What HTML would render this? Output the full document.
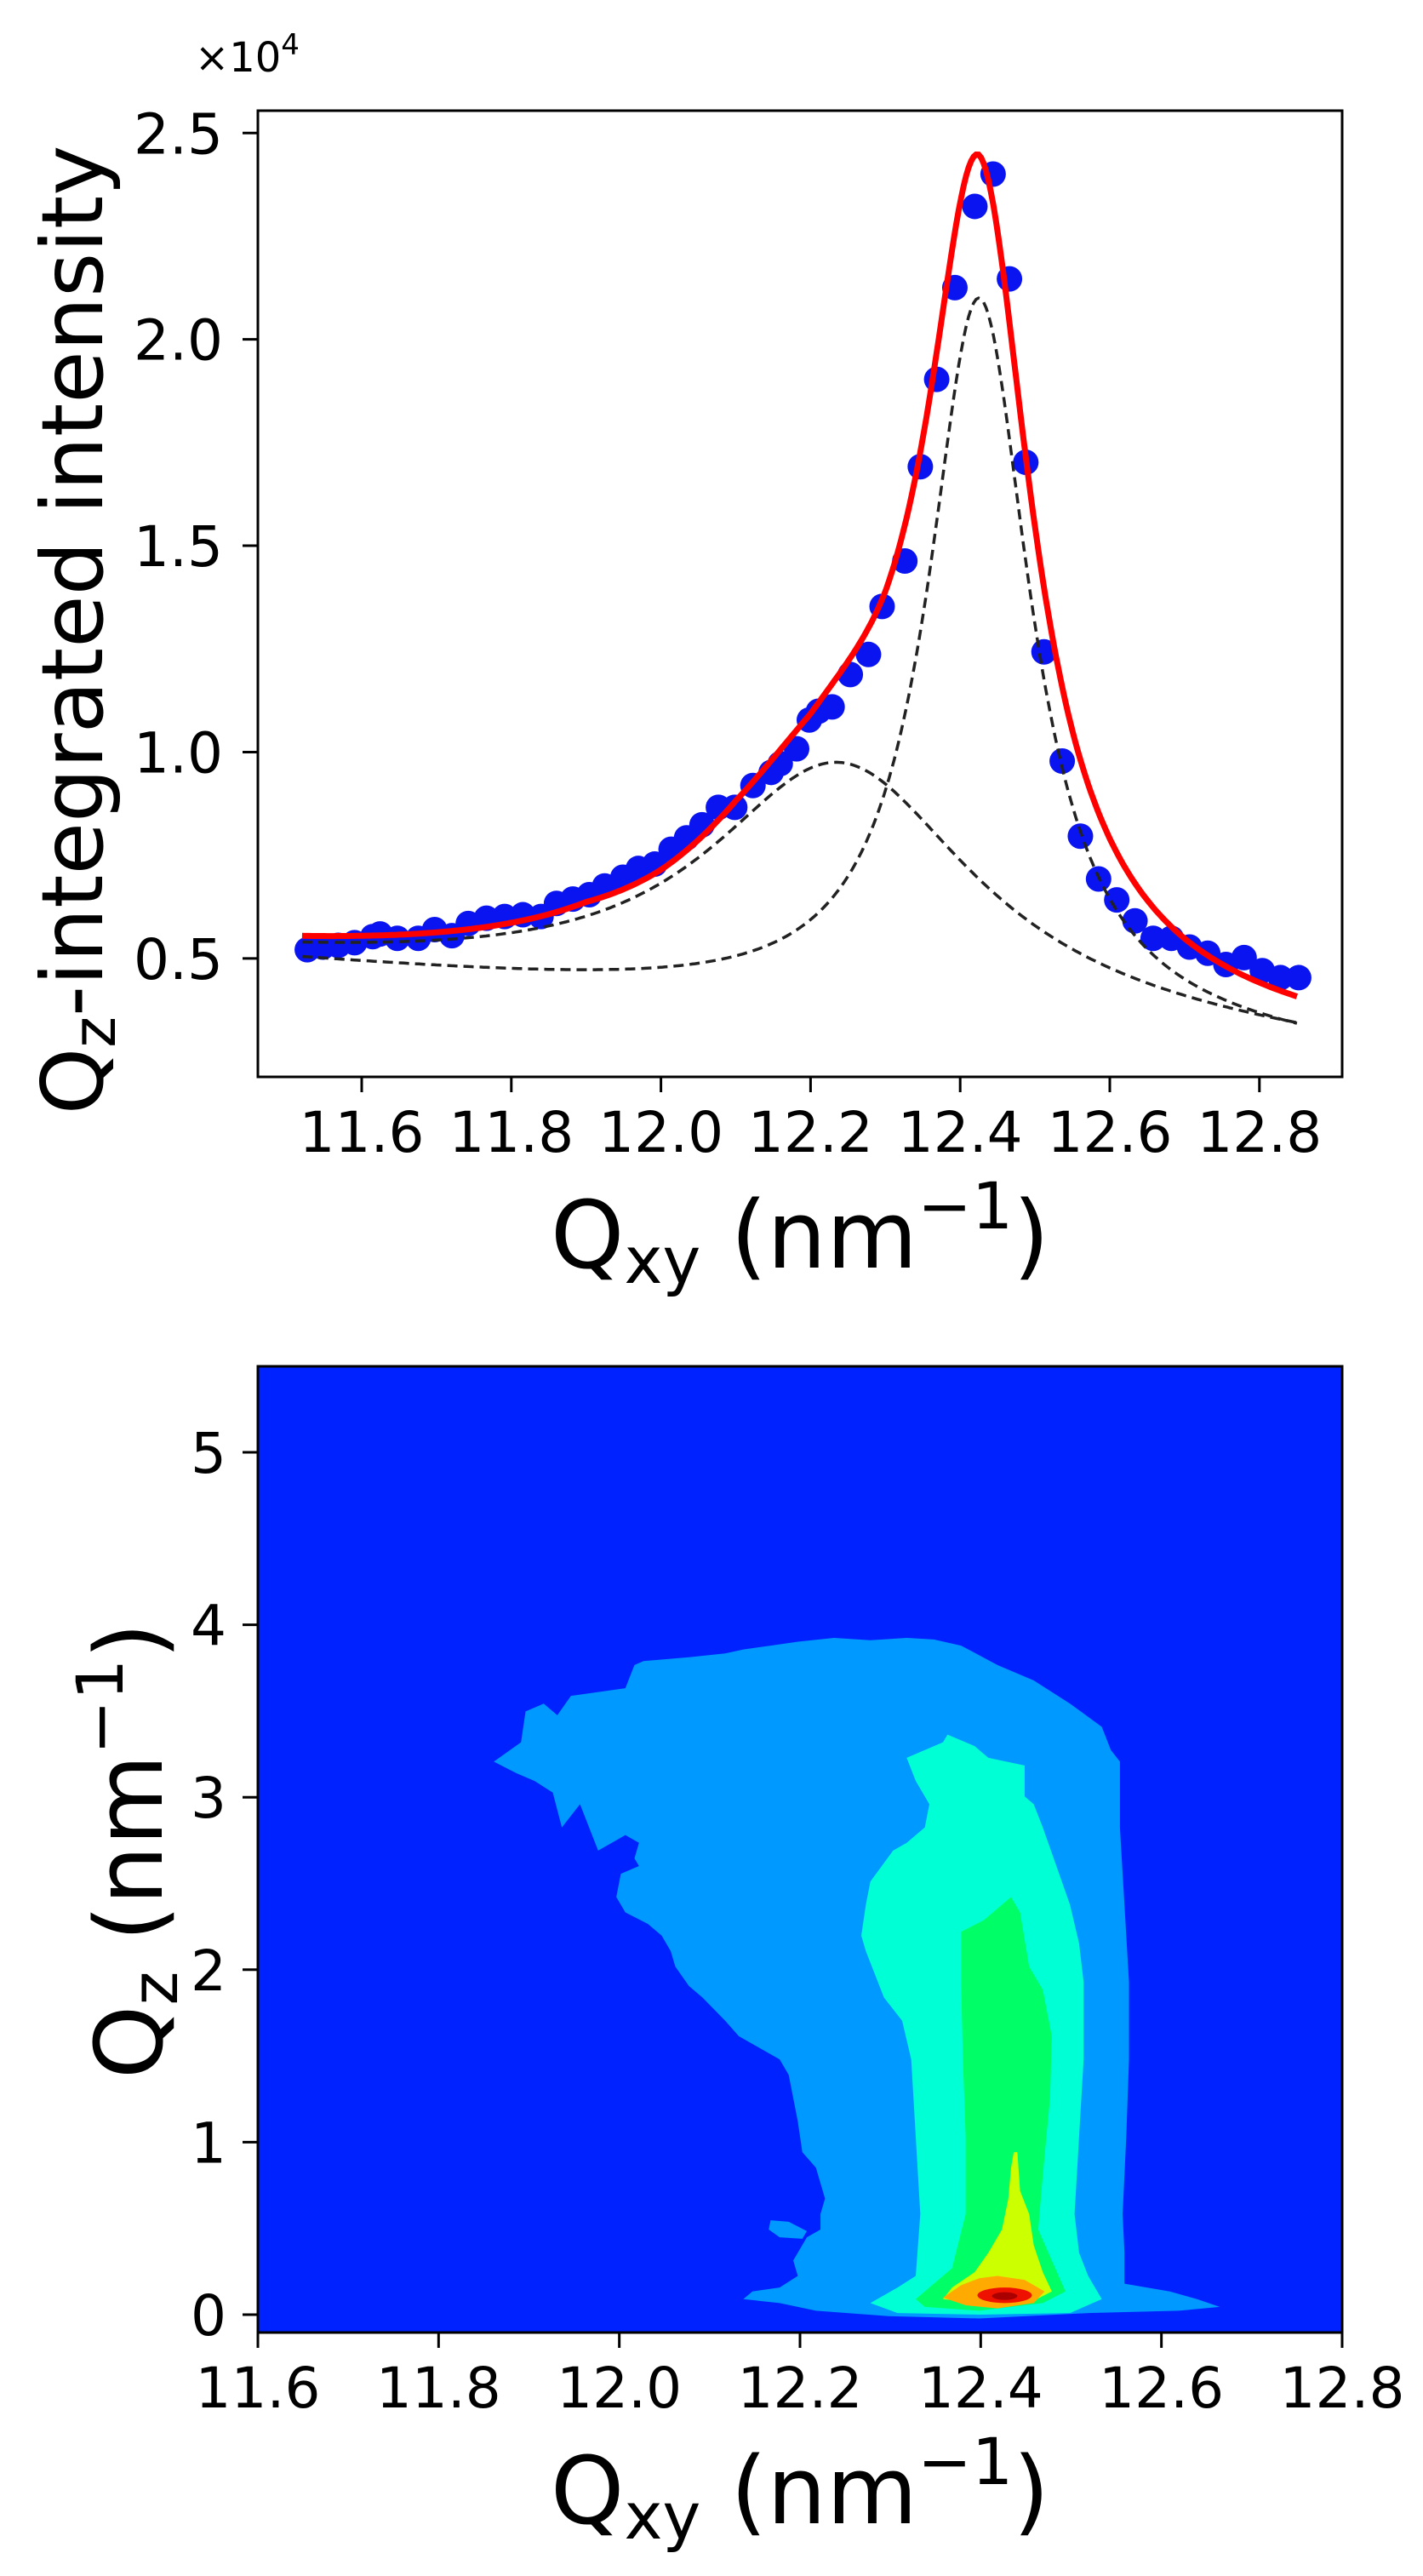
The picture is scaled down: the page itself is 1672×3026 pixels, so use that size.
<!DOCTYPE html>
<html><head><meta charset="utf-8"><style>
html,body{margin:0;padding:0;background:#fff;}
svg{display:block;}
text{font-family:"DejaVu Sans","Liberation Sans",sans-serif;fill:#000;}
</style></head><body>
<svg id="s" width="1672" height="3026" viewBox="0 0 1672 3026" xmlns="http://www.w3.org/2000/svg">
<rect width="1672" height="3026" fill="#fff"/>
<g id="top"></g>
<rect x="303" y="130" width="1274" height="1135" fill="none" stroke="#000" stroke-width="3"/>
<text x="229" y="84" font-size="48">×10<tspan dy="-20" font-size="34">4</tspan></text>
<g id="topticks" font-size="66"></g>
<text transform="translate(120,740) rotate(-90)" text-anchor="middle" font-size="100">Q<tspan font-size="70" dy="15">z</tspan><tspan dy="-15">-integrated intensity</tspan></text>
<text x="940" y="1489" text-anchor="middle" font-size="110">Q<tspan font-size="76" dy="18">xy</tspan><tspan dy="-18"> (nm</tspan><tspan font-size="76" dy="-46">−1</tspan><tspan dy="46">)</tspan></text>

<rect x="303" y="1605" width="1274" height="1135" fill="#0022ff"/>
<g transform="matrix(1.0662 0 0 0.9085 -0.87 1601.5)">
<polygon fill="#0099ff" points="545,515 575,490 580,450 600,440 615,455 630,430 660,425 690,420 700,390 710,385 760,380 800,375 820,370 850,365 880,360 920,355 960,358 1000,355 1030,357 1060,365 1100,390 1140,410 1180,440 1215,470 1225,500 1235,515 1235,600 1240,700 1245,800 1245,900 1242,1000 1238,1100 1240,1150 1240,1190 1290,1200 1320,1210 1345,1220 1300,1225 1200,1228 1080,1235 980,1232 900,1225 860,1215 820,1210 830,1200 860,1195 880,1180 875,1160 890,1130 905,1120 905,1100 910,1080 905,1060 900,1040 885,1020 880,980 875,950 870,920 860,900 830,880 815,870 800,850 775,820 760,805 745,780 740,760 730,740 715,725 690,710 680,690 685,660 705,650 700,640 705,620 690,610 660,630 640,570 620,600 610,555 590,540 570,530"/>
<polygon fill="#0099ff" points="850,1108 870,1110 890,1122 885,1132 860,1130 848,1120"/>
<polygon fill="#00ffd4" points="1000,510 1040,490 1045,480 1075,495 1090,510 1130,520 1130,560 1140,570 1150,600 1165,650 1180,700 1190,750 1195,800 1195,900 1190,1000 1185,1100 1190,1150 1200,1180 1215,1210 1180,1228 1080,1230 990,1228 960,1215 990,1195 1010,1180 1015,1100 1010,1000 1005,900 995,850 975,820 965,790 955,760 950,740 955,700 960,670 985,630 1000,620 1020,600 1025,570 1010,540"/>
<polygon fill="#00ff66" points="1060,735 1085,720 1115,690 1125,710 1135,780 1150,810 1160,870 1158,950 1150,1050 1145,1120 1160,1160 1175,1200 1150,1215 1080,1225 1020,1220 1010,1210 1030,1190 1050,1170 1065,1100 1065,1000 1062,900 1060,800"/>
<polygon fill="#ccff00" points="1118,1020 1122,1020 1125,1070 1135,1100 1140,1140 1150,1175 1160,1200 1140,1212 1080,1215 1040,1210 1050,1195 1075,1175 1090,1150 1105,1120 1112,1080 1115,1040"/>
<polygon fill="#ffaa00" points="1060,1192 1080,1183 1100,1180 1130,1185 1152,1200 1140,1215 1100,1222 1065,1218 1040,1208"/>
<ellipse cx="1108" cy="1205" rx="30" ry="10" fill="#ee1100"/>
<ellipse cx="1108" cy="1206" rx="14" ry="5" fill="#aa0000"/>
</g>
<rect x="303" y="1605" width="1274" height="1135" fill="none" stroke="#000" stroke-width="3"/>
<g id="botticks" font-size="66"></g>
<text transform="translate(190,2174) rotate(-90)" text-anchor="middle" font-size="110">Q<tspan font-size="76" dy="18">z</tspan><tspan dy="-18"> (nm</tspan><tspan font-size="76" dy="-46">−1</tspan><tspan dy="46">)</tspan></text>
<text x="940" y="2964" text-anchor="middle" font-size="110">Q<tspan font-size="76" dy="18">xy</tspan><tspan dy="-18"> (nm</tspan><tspan font-size="76" dy="-46">−1</tspan><tspan dy="46">)</tspan></text>
</svg>
<script>
(function(){
var NS="http://www.w3.org/2000/svg";
function el(tag,attrs,parent,txt){var e=document.createElementNS(NS,tag);for(var k in attrs)e.setAttribute(k,attrs[k]);if(txt!==undefined)e.textContent=txt;parent.appendChild(e);return e;}
var top=document.getElementById('top');
function X(x){return 303+(x-11.461)*879;}
function Y(v){return 1265-(v-0.213)*484.8;}
function b(x){return 0.49-0.16*(x-11.52);}
function interp(x,xs,ys){if(x<=xs[0])return ys[0];for(var i=1;i<xs.length;i++){if(x<=xs[i]){var t=(x-xs[i-1])/(xs[i]-xs[i-1]);return ys[i-1]+t*(ys[i]-ys[i-1]);}}return ys[ys.length-1];}
function c(x){return interp(x,[11.52,11.9,12.0,12.1,12.2,12.3,12.425,12.55,12.7,12.85],[0.49,0.42,0.38,0.35,0.30,0.29,0.345,0.31,0.29,0.275]);}
function L1(x){var g2=0.047;return 0.6*g2/((x-12.24)*(x-12.24)+g2);}
function L2(x){var g2=0.007;return 1.755*g2/((x-12.425)*(x-12.425)+g2);}
function path(f){var d="";for(var i=0;i<=400;i++){var x=11.52+(12.85-11.52)*i/400;d+=(i?"L":"M")+X(x).toFixed(1)+","+Y(f(x)).toFixed(1);}return d;}
var pts=[[338,1093],[355,1090],[372,1088],[390,1085],[410,1078],[418,1075],[437,1080],[460,1080],[478,1070],[497,1077],[515,1063],[535,1057],[555,1055],[575,1053],[595,1055],[612,1040],[630,1035],[648,1030],[665,1020],[685,1010],[702,1000],[720,995],[738,978],[755,965],[772,950],[790,930],[808,930],[828,905],[848,890],[858,880],[876,863],[890,830],[900,820],[915,815],[935,778],[955,755],[970,700],[995,648],[1012,540],[1030,440],[1050,335],[1072,242],[1092,205],[1110,325],[1128,535],[1148,752],[1168,877],[1188,963],[1208,1012],[1228,1036],[1248,1060],[1268,1080],[1288,1080],[1308,1090],[1328,1097],[1348,1110],[1368,1102],[1388,1117],[1408,1125],[1428,1125]];
pts.forEach(function(p){var x=11.6+(p[0]-398)/822.5,v=0.5+(1103-p[1])/472.5;el('circle',{cx:X(x),cy:Y(v),r:15,fill:'#0a14f0'},top);});
el('path',{d:path(function(x){return b(x)+L1(x);}),fill:'none',stroke:'#222','stroke-width':3.5,'stroke-dasharray':'12,7'},top);
el('path',{d:path(function(x){return b(x)+L2(x);}),fill:'none',stroke:'#222','stroke-width':3.5,'stroke-dasharray':'12,7'},top);
el('path',{d:path(function(x){return c(x)+L1(x)+L2(x);}),fill:'none',stroke:'#ff0000','stroke-width':7},top);
var tt=document.getElementById('topticks');
var xl=["11.6","11.8","12.0","12.2","12.4","12.6","12.8"];
for(var i=0;i<7;i++){var x=425+175.8*i;el('line',{x1:x,y1:1265,x2:x,y2:1283,stroke:'#000','stroke-width':3},tt);el('text',{x:x,y:1353,'text-anchor':'middle'},tt,xl[i]);}
var yl=["0.5","1.0","1.5","2.0","2.5"];
for(var j=0;j<5;j++){var y=Y(0.5+0.5*j);el('line',{x1:285,y1:y,x2:303,y2:y,stroke:'#000','stroke-width':3},tt);el('text',{x:262,y:y+24,'text-anchor':'end'},tt,yl[j]);}
var bt=document.getElementById('botticks');
for(var i=0;i<7;i++){var x=303+212.33*i;el('line',{x1:x,y1:2740,x2:x,y2:2758,stroke:'#000','stroke-width':3},bt);el('text',{x:x,y:2828,'text-anchor':'middle'},bt,xl[i]);}
for(var j=0;j<=5;j++){var y=2719-202.6*j;el('line',{x1:285,y1:y,x2:303,y2:y,stroke:'#000','stroke-width':3},bt);el('text',{x:266,y:y+24,'text-anchor':'end'},bt,String(j));}
})();
</script>
</body></html>
